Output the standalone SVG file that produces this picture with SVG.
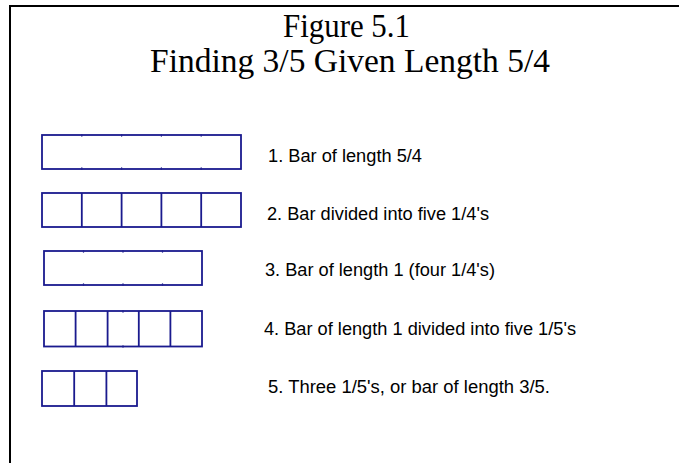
<svg xmlns="http://www.w3.org/2000/svg" width="679" height="463" viewBox="0 0 679 463">
<style>
.bar{fill:none;stroke:#1a1a8e;stroke-width:1.8}
.div{stroke:#1a1a8e;stroke-width:1.8}
.tick{stroke:#1a1a8e;stroke-width:1.2;opacity:0.6}
.title{font-family:"Liberation Serif","Times New Roman",serif;font-size:33px;fill:#000}
.lbl{font-family:"Liberation Sans",Arial,sans-serif;font-size:17.5px;fill:#000}
</style>
<rect width="679" height="463" fill="#fff"/>
<g id="frame" stroke="#000" stroke-width="2" fill="none">
<path d="M10,463 V6 H679"/>
</g>
<g id="title">
<text class="title" x="283" y="37" textLength="127" lengthAdjust="spacingAndGlyphs">Figure 5.1</text>
<text class="title" x="150" y="72" textLength="400" lengthAdjust="spacingAndGlyphs">Finding 3/5 Given Length 5/4</text>
</g>
<g id="bar1">
<rect class="bar" x="42" y="135" width="199" height="34"/>
<path class="tick" d="M81.8,134v3M121.6,134v3M161.4,134v3M201.2,134v3M81.8,167v3M121.6,167v3M161.4,167v3M201.2,167v3"/>
</g>
<g id="bar2">
<rect class="bar" x="42" y="193" width="199" height="34"/>
<path class="div" d="M81.8,193V227M121.6,193V227M161.4,193V227M201.2,193V227"/>
</g>
<g id="bar3">
<rect class="bar" x="44" y="251" width="158" height="34"/>
<path class="tick" d="M83.5,250v3M123,250v3M162.5,250v3M83.5,283v3M123,283v3M162.5,283v3"/>
</g>
<g id="bar4">
<rect class="bar" x="44" y="311" width="158" height="35.5"/>
<path class="div" d="M75.6,311V346.5M107.6,311V346.5M138.8,311V346.5M170.4,311V346.5"/>
<path class="tick" d="M123,310v3M123,345v3"/>
</g>
<g id="bar5">
<rect class="bar" x="42" y="371" width="95" height="35"/>
<path class="div" d="M74.2,371V406M106.4,371V406"/>
</g>
<g id="labels">
<text class="lbl" x="268" y="162" textLength="154" lengthAdjust="spacingAndGlyphs">1. Bar of length 5/4</text>
<text class="lbl" x="267" y="219.5" textLength="222" lengthAdjust="spacingAndGlyphs">2. Bar divided into five 1/4's</text>
<text class="lbl" x="265" y="276" textLength="230" lengthAdjust="spacingAndGlyphs">3. Bar of length 1 (four 1/4's)</text>
<text class="lbl" x="264" y="335" textLength="312" lengthAdjust="spacingAndGlyphs">4. Bar of length 1 divided into five 1/5's</text>
<text class="lbl" x="268" y="393" textLength="282" lengthAdjust="spacingAndGlyphs">5. Three 1/5's, or bar of length 3/5.</text>
</g>
<g id="connectors"></g>
</svg>
